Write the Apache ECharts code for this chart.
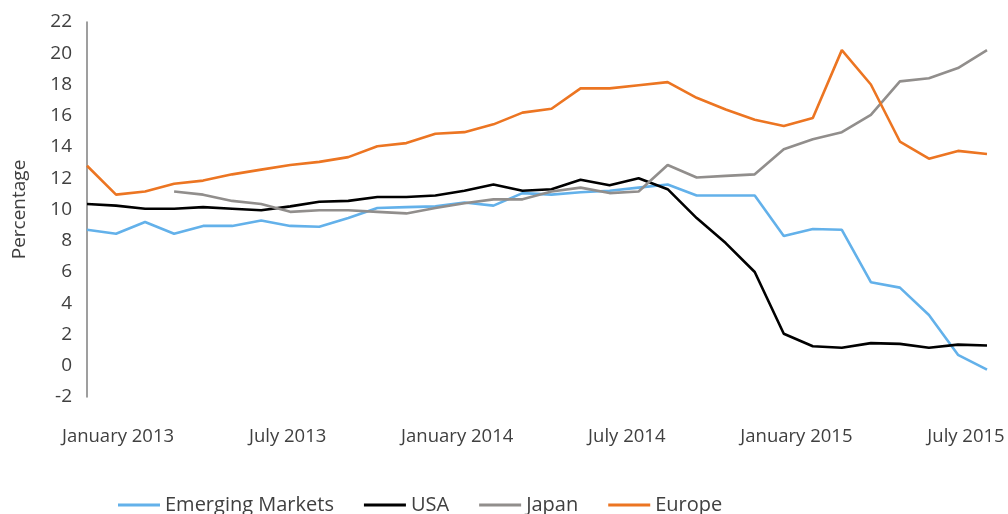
<!DOCTYPE html>
<html>
<head>
<meta charset="utf-8">
<script src="https://cdn.jsdelivr.net/npm/echarts@6/dist/echarts.min.js"></script>
<style>
  html, body { margin: 0; padding: 0; background: #fff; }
  #chart { width: 1008px; height: 514px; }
</style>
</head>
<body>
<div id="chart"></div>
<script>
// months, one point each (32 points)
var months = [];
for (var i = 0; i < 32; i++) {
  var y = 2013 + Math.floor(i / 12);
  months.push(y + '-' + ('0' + (i % 12 + 1)).slice(-2));
}

// axis labels along the bottom
var tickLabels = ['January 2013', 'July 2013', 'January 2014', 'July 2014', 'January 2015', 'July 2015'];

var emerging = [8.7, 8.45, 9.2, 8.45, 8.95, 8.95, 9.3, 8.95, 8.9, 9.45, 10.1, 10.15, 10.2, 10.45, 10.25, 11.05,
  10.95, 11.1, 11.2, 11.4, 11.6, 10.9, 10.9, 10.9, 8.3, 8.75, 8.7, 5.35, 5.0, 3.25, 0.7, -0.25];
var usa = [10.35, 10.25, 10.05, 10.05, 10.15, 10.05, 9.95, 10.2, 10.5, 10.55, 10.8, 10.8, 10.9, 11.2, 11.6, 11.2,
  11.3, 11.9, 11.55, 12.0, 11.3, 9.45, 7.85, 6.0, 2.05, 1.25, 1.15, 1.45, 1.4, 1.15, 1.35, 1.3];
var japan = [null, null, null, 11.15, 10.95, 10.55, 10.35, 9.85, 9.95, 9.95, 9.85, 9.75, 10.1, 10.4, 10.65, 10.65,
  11.15, 11.4, 11.05, 11.15, 12.85, 12.05, 12.15, 12.25, 13.85, 14.5, 14.95, 16.05, 18.2, 18.4, 19.05, 20.2];
var europe = [12.8, 10.95, 11.15, 11.65, 11.85, 12.25, 12.55, 12.85, 13.05, 13.35, 14.05, 14.25, 14.85, 14.95, 15.45, 16.2,
  16.45, 17.75, 17.75, 17.95, 18.15, 17.15, 16.4, 15.75, 15.35, 15.85, 20.2, 18.0, 14.35, 13.25, 13.75, 13.55];

var textColor = '#404040';
var font = 'Open Sans';

var chart = echarts.init(document.getElementById('chart'), null, { renderer: 'canvas' });

function lineSeries(name, data, color) {
  return {
    name: name,
    type: 'line',
    data: data,
    xAxisIndex: 0,
    yAxisIndex: 0,
    showSymbol: false,
    symbol: 'none',
    animation: false,
    lineStyle: { color: color, width: 2.6 },
    itemStyle: { color: color }
  };
}

chart.setOption({
  animation: false,
  textStyle: { fontFamily: font },
  grid: [
    { left: 87, right: 21, top: 22, bottom: 117 },
    // only carries the date labels under the plot
    { left: 118, right: 42, top: 22, bottom: 117 }
  ],
  legend: {
    left: 118,
    top: 495,
    padding: 0,
    itemWidth: 42,
    itemHeight: 3,
    itemGap: 30,
    icon: 'rect',
    textStyle: { color: textColor, fontSize: 20, fontFamily: font },
    data: ['Emerging Markets', 'USA', 'Japan', 'Europe']
  },
  xAxis: [
    {
      type: 'category',
      gridIndex: 0,
      data: months,
      boundaryGap: false,
      axisLine: { show: false },
      axisTick: { show: false },
      axisLabel: { show: false },
      splitLine: { show: false }
    },
    {
      type: 'category',
      gridIndex: 1,
      data: tickLabels,
      boundaryGap: false,
      axisLine: { show: false },
      axisTick: { show: false },
      splitLine: { show: false },
      axisLabel: { color: textColor, fontSize: 18.5, fontFamily: font, margin: 30, interval: 0 }
    }
  ],
  yAxis: [
    {
      type: 'value',
      gridIndex: 0,
      min: -2,
      max: 22,
      interval: 2,
      name: 'Percentage',
      nameLocation: 'middle',
      nameGap: 58,
      nameRotate: 90,
      nameTextStyle: { color: textColor, fontSize: 19, fontFamily: font },
      axisLine: { show: true, lineStyle: { color: '#7f7f7f', width: 1.5 } },
      axisTick: { show: false },
      splitLine: { show: false },
      axisLabel: { color: textColor, fontSize: 19, fontFamily: font, margin: 15 }
    },
    {
      type: 'value',
      gridIndex: 1,
      show: false
    }
  ],
  series: [
    lineSeries('Emerging Markets', emerging, '#63b1ea'),
    lineSeries('USA', usa, '#000000'),
    lineSeries('Japan', japan, '#918e8c'),
    lineSeries('Europe', europe, '#ec7522')
  ]
});
</script>
</body>
</html>
